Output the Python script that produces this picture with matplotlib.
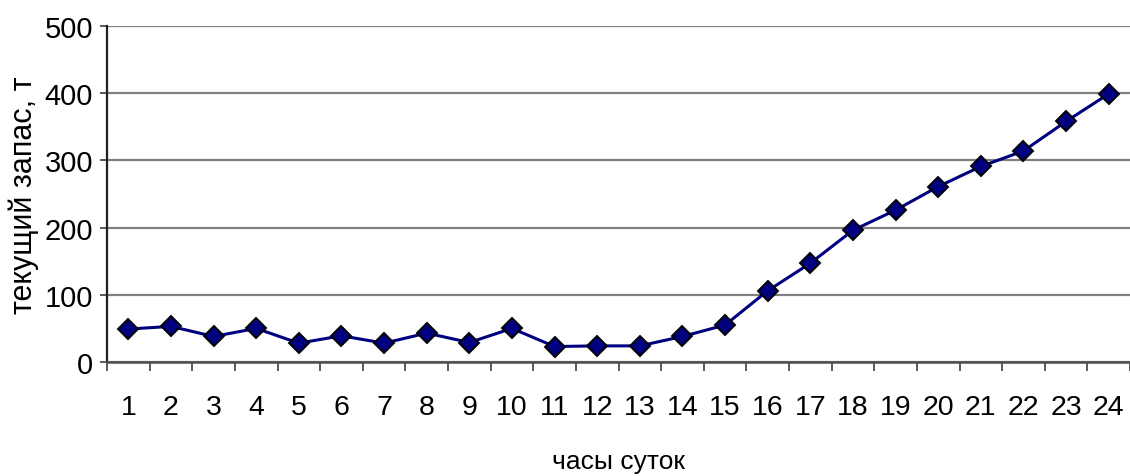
import numpy as np
import matplotlib
matplotlib.use("Agg")
import matplotlib.pyplot as plt
from matplotlib.ticker import FixedLocator

# часы суток и текущий запас (т)
hours = list(range(1, 25))
stock = [49, 53, 38, 50, 28, 39, 28, 43, 29, 50, 23, 24,
         24, 38, 55, 106, 147, 196, 226, 261, 291, 314, 358, 399]
y_ticks = [0, 100, 200, 300, 400, 500]

plt.rcParams['font.family'] = ['Liberation Sans', 'DejaVu Sans']

fig = plt.figure(figsize=(11.3, 4.77), dpi=100)
ax = fig.add_axes([0.0947, 0.239, 0.9053, 0.7044])

ax.plot(hours, stock, color='#000080', lw=2.2, marker='D', ms=10.5,
        mfc='#000080', mec='black', mew=1.4, zorder=3)

ax.set_xlim(0.5, 24.5)
ax.set_ylim(0, 500)

# сетка по оси Y
ax.set_yticks(y_ticks)
ax.yaxis.grid(True, color='#808080', lw=1.6)
ax.set_axisbelow(True)

# подписи часов по центру, засечки между ними
ax.set_xticks(hours)
ax.set_xticklabels([str(h) for h in hours])
ax.xaxis.set_minor_locator(FixedLocator(np.arange(0.5, 25, 1.0)))
ax.tick_params(axis='x', which='major', length=0, pad=23, labelsize=20.5)
ax.tick_params(axis='x', which='minor', length=6.5, width=1.2,
               color='#404040', direction='out')
ax.tick_params(axis='y', length=5, width=1.2, pad=5, labelsize=21,
               color='#404040')

for s in ['top', 'right']:
    ax.spines[s].set_visible(False)
ax.spines['left'].set_color('#202020')
ax.spines['left'].set_linewidth(1.6)
ax.spines['bottom'].set_color('#505050')
ax.spines['bottom'].set_linewidth(1.8)

ax.set_ylabel('текущий запас, т', fontsize=22, labelpad=4)
ax.set_xlabel('часы суток', fontsize=19, labelpad=21)

fig.savefig('out.png', dpi=100)
